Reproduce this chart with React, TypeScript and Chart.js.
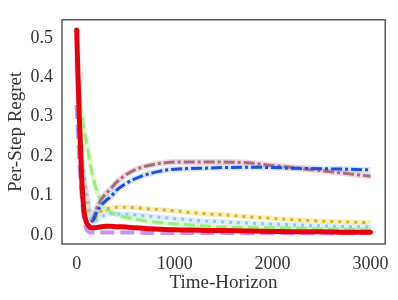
import React, { useEffect, useRef } from "react";
import { Chart, registerables } from "chart.js";
Chart.register(...registerables);

const T = [0, 25, 50, 75, 100, 125, 150, 175, 200, 250, 300, 350, 400, 500, 600, 750, 900, 1000, 1250, 1500, 1750, 2000, 2250, 2500, 2750, 3000];

const RED = [0.52, 0.31, 0.15, 0.06, 0.032, 0.022, 0.018, 0.018, 0.019, 0.021, 0.022, 0.022, 0.021, 0.02, 0.018, 0.016, 0.014, 0.013, 0.012, 0.011, 0.01, 0.009, 0.008, 0.008, 0.007, 0.007];
const PURPLE = [0.33, 0.2, 0.1, 0.04, 0.015, 0.008, 0.006, 0.006, 0.006, 0.006, 0.006, 0.006, 0.006, 0.006, 0.006, 0.005, 0.005, 0.005, 0.005, 0.005, 0.004, 0.004, 0.004, 0.004, 0.004, 0.004];
const GREEN = [0.42, 0.36, 0.31, 0.265, 0.235, 0.2, 0.165, 0.14, 0.115, 0.085, 0.066, 0.058, 0.052, 0.045, 0.04, 0.034, 0.03, 0.028, 0.024, 0.02, 0.019, 0.018, 0.017, 0.015, 0.014, 0.013];
const YELLOW = [0.45, 0.3, 0.2, 0.14, 0.1, 0.06, 0.04, 0.036, 0.045, 0.06, 0.066, 0.068, 0.07, 0.07, 0.069, 0.066, 0.063, 0.061, 0.055, 0.051, 0.046, 0.042, 0.038, 0.035, 0.033, 0.031];
const LIGHTBLUE = [0.45, 0.3, 0.2, 0.15, 0.11, 0.075, 0.042, 0.033, 0.036, 0.045, 0.052, 0.054, 0.054, 0.053, 0.051, 0.047, 0.044, 0.042, 0.036, 0.033, 0.03, 0.028, 0.025, 0.023, 0.021, 0.02];
const BLUE = [null, null, null, null, null, null, 0.034, 0.04, 0.055, 0.075, 0.088, 0.097, 0.112, 0.13, 0.143, 0.156, 0.164, 0.167, 0.169, 0.171, 0.172, 0.171, 0.169, 0.168, 0.167, 0.165];
const MAUVE = [null, null, null, null, null, null, 0.032, 0.045, 0.065, 0.09, 0.105, 0.118, 0.132, 0.152, 0.166, 0.177, 0.183, 0.185, 0.185, 0.185, 0.183, 0.176, 0.17, 0.163, 0.156, 0.149];

const X_TICKS = [0, 1000, 2000, 3000];
const Y_TICKS = [0, 0.1, 0.2, 0.3, 0.4, 0.5];

const FONT = "'Liberation Serif', 'Times New Roman', serif";

function pts(vals: (number | null)[]) {
  return T.map((t, i) => ({ x: t, y: vals[i] }));
}

export default function App() {
  const ref = useRef<HTMLCanvasElement | null>(null);
  useEffect(() => {
    if (!ref.current) return;
    const frame = {
      id: "frame",
      afterDatasetsDraw(chart: any) {
        const { ctx, chartArea: a } = chart;
        ctx.save();
        ctx.strokeStyle = "#3a3a3a";
        ctx.lineWidth = 1.25;
        ctx.strokeRect(a.left, a.top, a.right - a.left, a.bottom - a.top);
        ctx.restore();
      },
    };
    const base = { pointRadius: 0, fill: false, cubicInterpolationMode: "monotone" as const, borderCapStyle: "butt" as const };
    const band = (vals: (number | null)[], color: string, w: number, order: number) => ({
      ...base, data: pts(vals), borderColor: color, borderWidth: w, order,
    });
    const chart = new Chart(ref.current, {
      type: "line",
      data: {
        datasets: [
          band(GREEN, "rgba(160,240,130,0.35)", 5, 20),
          band(YELLOW, "rgba(230,200,60,0.3)", 5, 19),
          band(LIGHTBLUE, "rgba(150,200,250,0.3)", 5, 18),
          band(MAUVE, "rgba(200,150,165,0.35)", 6, 17),
          band(BLUE, "rgba(140,180,240,0.35)", 6, 16),
          { ...base, data: pts(PURPLE), borderColor: "rgba(185,130,240,0.85)", borderWidth: 4, borderDash: [14, 6], order: 10 },
          { ...base, data: pts(GREEN), borderColor: "#98f07c", borderWidth: 3, borderDash: [11, 5], order: 9 },
          { ...base, data: pts(YELLOW), borderColor: "#d8b410", borderWidth: 3, borderDash: [3, 5], order: 8 },
          { ...base, data: pts(LIGHTBLUE), borderColor: "#8cc8fa", borderWidth: 3, borderDash: [3, 5], order: 7 },
          { ...base, data: pts(MAUVE), borderColor: "#a86c7e", borderWidth: 3, borderDash: [11, 3, 3, 3], order: 6 },
          { ...base, data: pts(BLUE), borderColor: "#1c4fe4", borderWidth: 3, borderDash: [11, 3, 3, 3], order: 5 },
          { ...base, data: pts(RED), borderColor: "#e8000b", borderWidth: 5, borderCapStyle: "round", order: 1 },
        ],
      },
      options: {
        animation: false,
        responsive: false,
        events: [],
        layout: { padding: { left: 5, right: 11, top: 8, bottom: 6 } },
        plugins: { legend: { display: false }, tooltip: { enabled: false } },
        scales: {
          x: {
            type: "linear",
            min: -150,
            max: 3150,
            grid: { display: false, drawTicks: false },
            border: { display: false },
            afterBuildTicks: (s: any) => { s.ticks = X_TICKS.map((v) => ({ value: v })); },
            afterFit: (s: any) => { s.height = 50; },
            ticks: { color: "#333", font: { family: FONT, size: 18 }, padding: 9, maxRotation: 0, callback: (v: any) => String(v) },
            title: { display: true, text: "Time-Horizon", color: "#333", font: { family: FONT, size: 19 }, padding: { top: 0, bottom: 0 } },
          },
          y: {
            type: "linear",
            min: -0.023,
            max: 0.546,
            grid: { display: false, drawTicks: false },
            border: { display: false },
            afterBuildTicks: (s: any) => { s.ticks = Y_TICKS.map((v) => ({ value: v })); },
            afterFit: (s: any) => { s.width = 57; },
            ticks: { color: "#333", font: { family: FONT, size: 18 }, padding: 9, callback: (v: any) => Number(v).toFixed(1) },
            title: { display: true, text: "Per-Step Regret", color: "#333", font: { family: FONT, size: 19 }, padding: { top: 0, bottom: 0 } },
          },
        },
      },
      plugins: [frame],
    });
    return () => chart.destroy();
  }, []);
  return (
    <div style={{ position: "fixed", left: 0, top: 0, width: 398, height: 300, background: "#fff" }}>
      <canvas ref={ref} width={398} height={300} />
    </div>
  );
}
